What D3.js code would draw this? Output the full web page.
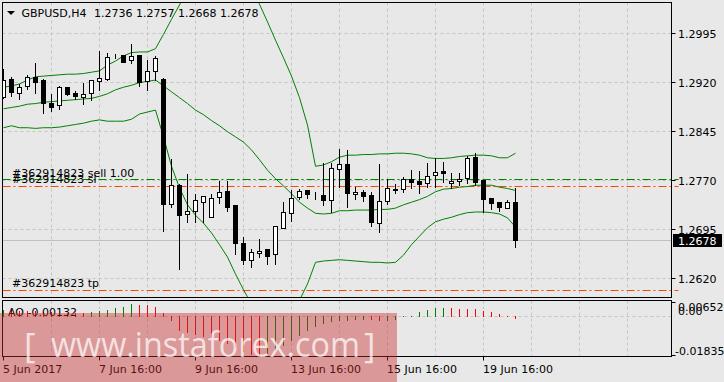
<!DOCTYPE html>
<html><head><meta charset="utf-8">
<script src="https://cdn.jsdelivr.net/npm/d3@7/dist/d3.min.js"></script>
<style>
html,body{margin:0;padding:0;background:#e8e8e8;overflow:hidden;}
svg{display:block;}
text{font-family:"DejaVu Sans",sans-serif;font-size:11px;fill:#000;}
</style></head><body>
<svg id="c" width="724" height="382"></svg>
<script>
// ---------------- DATA ----------------
const symbol = "GBPUSD,H4";
const headerOHLC = "1.2736 1.2757 1.2668 1.2678";
const times = [
 "2017-06-05 16:00","2017-06-05 20:00",
 "2017-06-06 00:00","2017-06-06 04:00","2017-06-06 08:00","2017-06-06 12:00","2017-06-06 16:00","2017-06-06 20:00",
 "2017-06-07 00:00","2017-06-07 04:00","2017-06-07 08:00","2017-06-07 12:00","2017-06-07 16:00","2017-06-07 20:00",
 "2017-06-08 00:00","2017-06-08 04:00","2017-06-08 08:00","2017-06-08 12:00","2017-06-08 16:00","2017-06-08 20:00",
 "2017-06-09 00:00","2017-06-09 04:00","2017-06-09 08:00","2017-06-09 12:00","2017-06-09 16:00","2017-06-09 20:00",
 "2017-06-12 00:00","2017-06-12 04:00","2017-06-12 08:00","2017-06-12 12:00","2017-06-12 16:00","2017-06-12 20:00",
 "2017-06-13 00:00","2017-06-13 04:00","2017-06-13 08:00","2017-06-13 12:00","2017-06-13 16:00","2017-06-13 20:00",
 "2017-06-14 00:00","2017-06-14 04:00","2017-06-14 08:00","2017-06-14 12:00","2017-06-14 16:00","2017-06-14 20:00",
 "2017-06-15 00:00","2017-06-15 04:00","2017-06-15 08:00","2017-06-15 12:00","2017-06-15 16:00","2017-06-15 20:00",
 "2017-06-16 00:00","2017-06-16 04:00","2017-06-16 08:00","2017-06-16 12:00","2017-06-16 16:00","2017-06-16 20:00",
 "2017-06-19 00:00","2017-06-19 04:00","2017-06-19 08:00","2017-06-19 12:00","2017-06-19 16:00","2017-06-19 20:00",
 "2017-06-20 00:00","2017-06-20 04:00","2017-06-20 08:00"
];
const open  = [1.2897,1.2925,1.2903,1.2914,1.2928,1.2923,1.2888,1.2885,1.2912,1.2903,1.2897,1.2903,1.2921,1.2924,1.2960,1.2961,1.2954,1.2961,1.2922,1.2937,
               1.2925,1.2734,1.2763,1.2718,1.2722,1.2737,1.2714,1.2744,1.2753,1.2731,1.2674,1.2647,1.2658,1.2664,1.2656,1.2697,1.2719,1.2744,1.2754,1.2747,
               1.2747,1.2740,1.2787,1.2794,1.2748,1.2751,1.2747,1.2704,1.2738,1.2756,1.2756,1.2771,1.2768,1.2766,1.2777,1.2784,1.2765,1.2768,1.2773,1.2805,
               1.2770,1.2742,1.2737,1.2727,1.2736];
const high  = [1.2940,1.2927,1.2917,1.2931,1.2949,1.2925,1.2902,1.2914,1.2913,1.2906,1.2919,1.2923,1.2967,1.2965,1.2963,1.2962,1.2978,1.2961,1.2954,1.2960,
               1.2926,1.2802,1.2764,1.2779,1.2748,1.2746,1.2749,1.2768,1.2768,1.2732,1.2683,1.2665,1.2679,1.2665,1.2700,1.2737,1.2754,1.2756,1.2754,1.2751,
               1.2796,1.2796,1.2817,1.2816,1.2760,1.2755,1.2751,1.2794,1.2771,1.2764,1.2774,1.2785,1.2784,1.2796,1.2804,1.2798,1.2780,1.2780,1.2807,1.2812,
               1.2770,1.2742,1.2737,1.2740,1.2757];
const low   = [1.2895,1.2899,1.2894,1.2910,1.2903,1.2872,1.2876,1.2878,1.2900,1.2894,1.2887,1.2892,1.2908,1.2923,1.2956,1.2951,1.2949,1.2914,1.2907,1.2923,
               1.2692,1.2728,1.2634,1.2705,1.2705,1.2705,1.2714,1.2735,1.2723,1.2657,1.2642,1.2637,1.2652,1.2642,1.2641,1.2696,1.2708,1.2741,1.2742,1.2741,
               1.2731,1.2721,1.2760,1.2728,1.2741,1.2738,1.2700,1.2690,1.2733,1.2750,1.2751,1.2758,1.2750,1.2760,1.2760,1.2767,1.2757,1.2762,1.2765,1.2762,
               1.2721,1.2726,1.2722,1.2727,1.2668];
const close = [1.2923,1.2904,1.2913,1.2927,1.2920,1.2888,1.2882,1.2913,1.2901,1.2898,1.2901,1.2923,1.2926,1.2958,1.2960,1.2951,1.2960,1.2920,1.2937,1.2956,
               1.2733,1.2762,1.2717,1.2723,1.2739,1.2745,1.2742,1.2751,1.2728,1.2673,1.2648,1.2660,1.2662,1.2654,1.2699,1.2721,1.2742,1.2753,1.2748,1.2747,
               1.2740,1.2788,1.2794,1.2750,1.2751,1.2745,1.2705,1.2738,1.2757,1.2755,1.2771,1.2767,1.2764,1.2776,1.2783,1.2780,1.2768,1.2771,1.2803,1.2767,
               1.2741,1.2735,1.2728,1.2737,1.2678];
const bbUpper  = [1.2912,1.2914,1.2917,1.2923,1.2928,1.2929,1.2930,1.2931,1.2932,1.2932,1.2933,1.2935,1.2937,1.2946,1.2952,1.2960,1.2965,1.2966,1.2966,1.2971,
                  1.2993,1.3016,1.3038,1.3061,1.3076,1.3088,1.3098,1.3104,1.3104,1.3099,1.3084,1.3064,1.3039,1.3012,1.2984,1.2957,1.2929,1.2896,1.2854,1.2791,
                  1.2793,1.2798,1.2805,1.2808,1.2808,1.2809,1.2809,1.2810,1.2810,1.2811,1.2811,1.2810,1.2808,1.2804,1.2803,1.2803,1.2804,1.2806,1.2807,1.2808,
                  1.2808,1.2807,1.2804,1.2804,1.2811];
const bbMiddle = [1.2879,1.2881,1.2883,1.2886,1.2887,1.2889,1.2890,1.2891,1.2892,1.2893,1.2894,1.2895,1.2898,1.2902,1.2908,1.2912,1.2915,1.2919,1.2921,1.2923,
                  1.2914,1.2905,1.2896,1.2887,1.2877,1.2870,1.2861,1.2853,1.2844,1.2836,1.2828,1.2816,1.2801,1.2785,1.2772,1.2761,1.2749,1.2736,1.2727,1.2719,
                  1.2718,1.2719,1.2723,1.2723,1.2724,1.2724,1.2724,1.2725,1.2725,1.2727,1.2732,1.2736,1.2740,1.2745,1.2752,1.2756,1.2757,1.2759,1.2760,1.2762,
                  1.2762,1.2762,1.2759,1.2757,1.2754];
const bbLower  = [1.2850,1.2853,1.2850,1.2850,1.2849,1.2850,1.2850,1.2851,1.2853,1.2855,1.2857,1.2860,1.2862,1.2860,1.2860,1.2860,1.2863,1.2871,1.2874,1.2877,
                  1.2836,1.2791,1.2758,1.2732,1.2716,1.2704,1.2689,1.2671,1.2652,1.2626,1.2602,1.2580,1.2568,1.2562,1.2559,1.2562,1.2571,1.2586,1.2611,1.2644,
                  1.2646,1.2647,1.2648,1.2647,1.2646,1.2645,1.2644,1.2644,1.2643,1.2644,1.2655,1.2671,1.2684,1.2697,1.2706,1.2710,1.2713,1.2717,1.2720,1.2721,
                  1.2721,1.2720,1.2718,1.2712,1.2698];
const ao = [0.00300,0.00276,0.00253,0.00230,0.00225,0.00207,0.00184,0.00165,0.00161,0.00158,0.00152,0.00198,0.00244,0.00276,0.00354,0.00428,0.00538,0.00530,0.00506,0.00400,
            0.00152,-0.00216,-0.00690,-0.00796,-0.00874,-0.00952,-0.01026,-0.01150,-0.01290,-0.01470,-0.01650,-0.01790,-0.01830,-0.01750,-0.01610,-0.01380,-0.01150,-0.00920,-0.00690,-0.00506,
            -0.00368,-0.00276,-0.00230,-0.00207,-0.00184,-0.00180,-0.00198,-0.00230,-0.00228,-0.00184,-0.00023,0.00023,0.00184,0.00276,0.00368,0.00391,0.00354,0.00322,0.00320,0.00308,
            0.00230,0.00184,0.00092,0.00014,-0.00132];
const priceTicks = [1.2620,1.2695,1.2770,1.2845,1.2920,1.2995];
const aoAxisLabels = ["0.00652","0.00","-0.01835"];
const aoRange = [-0.01835, 0.00652];
const dateTickIndex = [0,12,24,36,48,60];
const dateTickLabels = ["5 Jun 2017","7 Jun 16:00","9 Jun 16:00","13 Jun 16:00","15 Jun 16:00","19 Jun 16:00"];
const orderLabels = ["#362914823 sell 1.00","#362914823 sl","#362914823 tp"];
const orderPrices = [1.2771,1.2761,1.2602];
const aoLabel = "AO -0.00132";
const watermark = ["[","www.instaforex.com","]"];

// ---------------- LAYOUT ----------------
const bg = "#e8e8e8", gridCol = "#c4c4c4", green = "#008000", orange = "#ff4500";
const main = {x0:2.5, x1:671.5, y0:2.5, y1:297.5};
const sub  = {x0:2.5, x1:671.5, y0:300.5, y1:356.5};
const svg = d3.select("#c");
svg.append("rect").attr("width",724).attr("height",382).attr("fill",bg);

const n = times.length;
const x = d3.scaleLinear().domain([0, n-1]).range([3.5, 3.5 + 8*(n-1)]);
const y = d3.scaleLinear().domain([1.2620, 1.2995]).range([278, 33]);
const ya = d3.scaleLinear().domain(aoRange).range([356, 302]);

const defs = svg.append("defs");
defs.append("clipPath").attr("id","clipMain").append("rect")
  .attr("x",main.x0).attr("y",main.y0).attr("width",main.x1-main.x0).attr("height",main.y1-main.y0);
defs.append("clipPath").attr("id","clipSub").append("rect")
  .attr("x",sub.x0).attr("y",sub.y0).attr("width",sub.x1-sub.x0).attr("height",sub.y1-sub.y0);

const gMain = svg.append("g").attr("clip-path","url(#clipMain)");
const gSub = svg.append("g").attr("clip-path","url(#clipSub)");

// vertical grid
const gridIdx = d3.range(6, 90, 6).filter(i => x(i) - 0.5 < main.x1);
[ [gMain, main], [gSub, sub] ].forEach(([g, p]) => {
  g.selectAll(null).data(gridIdx).enter().append("line")
    .attr("x1", d => Math.floor(x(d)) + 0.5).attr("x2", d => Math.floor(x(d)) + 0.5)
    .attr("y1", p.y0).attr("y2", p.y1)
    .attr("stroke", gridCol).attr("stroke-dasharray","3,3");
});
// horizontal grid main
gMain.selectAll(null).data(priceTicks).enter().append("line")
  .attr("x1", main.x0).attr("x2", main.x1)
  .attr("y1", d => Math.round(y(d)) + 0.5).attr("y2", d => Math.round(y(d)) + 0.5)
  .attr("stroke", gridCol).attr("stroke-dasharray","3,3");
// zero line sub
gSub.append("line").attr("x1",sub.x0).attr("x2",sub.x1)
  .attr("y1", Math.round(ya(0))+0.5).attr("y2", Math.round(ya(0))+0.5)
  .attr("stroke", gridCol).attr("stroke-dasharray","3,3");

// bid line
const lastClose = close[n-1];
gMain.append("line").attr("x1",main.x0).attr("x2",main.x1)
  .attr("y1", Math.round(y(lastClose))+0.5).attr("y2", Math.round(y(lastClose))+0.5)
  .attr("stroke","#c0c0c0");

// order lines
const orderColors = [green, orange, orange];
orderPrices.forEach((p,i) => {
  gMain.append("line").attr("x1",main.x0).attr("x2",main.x1)
    .attr("y1", Math.round(y(p))+0.5).attr("y2", Math.round(y(p))+0.5)
    .attr("stroke", orderColors[i]).attr("stroke-dasharray","8,3,2,3");
});

// bollinger
const line = d3.line().x((d,i) => x(i)).y(d => y(d));
[bbUpper, bbMiddle, bbLower].forEach(arr => {
  gMain.append("path").attr("d", line(arr)).attr("fill","none").attr("stroke",green).attr("stroke-width",1);
});

// candles
const cg = gMain.append("g");
d3.range(n).forEach(i => {
  const cx = x(i);
  const yo = Math.round(y(open[i])), yc = Math.round(y(close[i]));
  const yh = Math.round(y(high[i])), yl = Math.round(y(low[i]));
  cg.append("line").attr("x1",cx).attr("x2",cx).attr("y1",yh).attr("y2",yl+1).attr("stroke","#000");
  const top = Math.min(yo,yc), bot = Math.max(yo,yc);
  if (close[i] >= open[i]) {
    cg.append("rect").attr("x",cx-2).attr("y",top+0.5).attr("width",4).attr("height",Math.max(bot-top,0))
      .attr("fill","#fff").attr("stroke","#000");
  } else {
    cg.append("rect").attr("x",cx-2.5).attr("y",top).attr("width",5).attr("height",Math.max(bot-top,1)+1)
      .attr("fill","#000");
  }
});

// AO histogram
ao.forEach((v,i) => {
  const col = (i === 0 || v > ao[i-1]) ? green : "#ff0000";
  const y0 = Math.round(ya(0)), y1 = Math.round(ya(v));
  gSub.append("line").attr("x1",x(i)).attr("x2",x(i))
    .attr("y1", Math.min(y0,y1)).attr("y2", Math.max(y0,y1)+ (v<0?0:1))
    .attr("stroke", col);
});

// frames
[main, sub].forEach(p => {
  svg.append("rect").attr("x",p.x0).attr("y",p.y0).attr("width",p.x1-p.x0).attr("height",p.y1-p.y0)
    .attr("fill","none").attr("stroke","#000");
});

// price axis
priceTicks.forEach(p => {
  const yy = Math.round(y(p))+0.5;
  svg.append("line").attr("x1",main.x1).attr("x2",main.x1+4).attr("y1",yy).attr("y2",yy).attr("stroke","#000");
  svg.append("text").attr("x",678).attr("y",yy+4).text(d3.format(".4f")(p));
});
orderPrices.forEach((p,i) => {
  const yy = Math.round(y(p))+0.5;
  svg.append("line").attr("x1",main.x1+3).attr("x2",main.x1+7).attr("y1",yy).attr("y2",yy).attr("stroke",orderColors[i]);
});
const yb = Math.round(y(lastClose));
svg.append("rect").attr("x",673).attr("y",yb-6).attr("width",49).attr("height",13).attr("fill","#000");
svg.append("text").attr("x",678).attr("y",yb+5).style("fill","#fff").text(d3.format(".4f")(lastClose));

// AO axis
svg.append("line").attr("x1",sub.x1).attr("x2",sub.x1+4).attr("y1",302.5).attr("y2",302.5).attr("stroke","#000");
svg.append("line").attr("x1",sub.x1).attr("x2",sub.x1+4).attr("y1",355.5).attr("y2",355.5).attr("stroke","#000");
svg.append("text").attr("x",678).attr("y",311).text(aoAxisLabels[0]);
svg.append("text").attr("x",678).attr("y",314.5).text(aoAxisLabels[1]);
svg.append("text").attr("x",675).attr("y",355).text(aoAxisLabels[2]);

// date axis
dateTickIndex.forEach((idx,k) => {
  const xx = Math.floor(x(idx)) + 0.5;
  svg.append("line").attr("x1",xx).attr("x2",xx).attr("y1",sub.y1).attr("y2",sub.y1+4).attr("stroke","#000");
  svg.append("text").attr("x", Math.floor(x(idx))).attr("y",373).text(dateTickLabels[k]);
});

// header
svg.append("path").attr("d","M7,11 L15,11 L11,15 Z").attr("fill","#000");
svg.append("text").attr("x",21.5).attr("y",17).text(symbol);
svg.append("text").attr("x",94).attr("y",17).text(headerOHLC);

// order labels
svg.append("text").attr("x",12).attr("y",177).text(orderLabels[0]);
svg.append("text").attr("x",12).attr("y",183).text(orderLabels[1]);
svg.append("text").attr("x",12).attr("y",287).text(orderLabels[2]);

// AO label
svg.append("text").attr("x",8).attr("y",316).text(aoLabel);

// watermark
const wm = svg.append("g");
wm.append("rect").attr("x",0).attr("y",313).attr("width",397).attr("height",69)
  .attr("fill","#c82828").attr("fill-opacity",0.42);
const wmStyle = s => s.style("font-family","'Open Sans',sans-serif").style("font-size","35px").style("fill","rgba(255,255,255,0.72)");
wmStyle(wm.append("text").attr("x",24).attr("y",358).text(watermark[0]));
wmStyle(wm.append("text").attr("x",51).attr("y",357).attr("textLength",309).attr("lengthAdjust","spacingAndGlyphs").text(watermark[1]));
wmStyle(wm.append("text").attr("x",364).attr("y",358).text(watermark[2]));
</script>
</body></html>
